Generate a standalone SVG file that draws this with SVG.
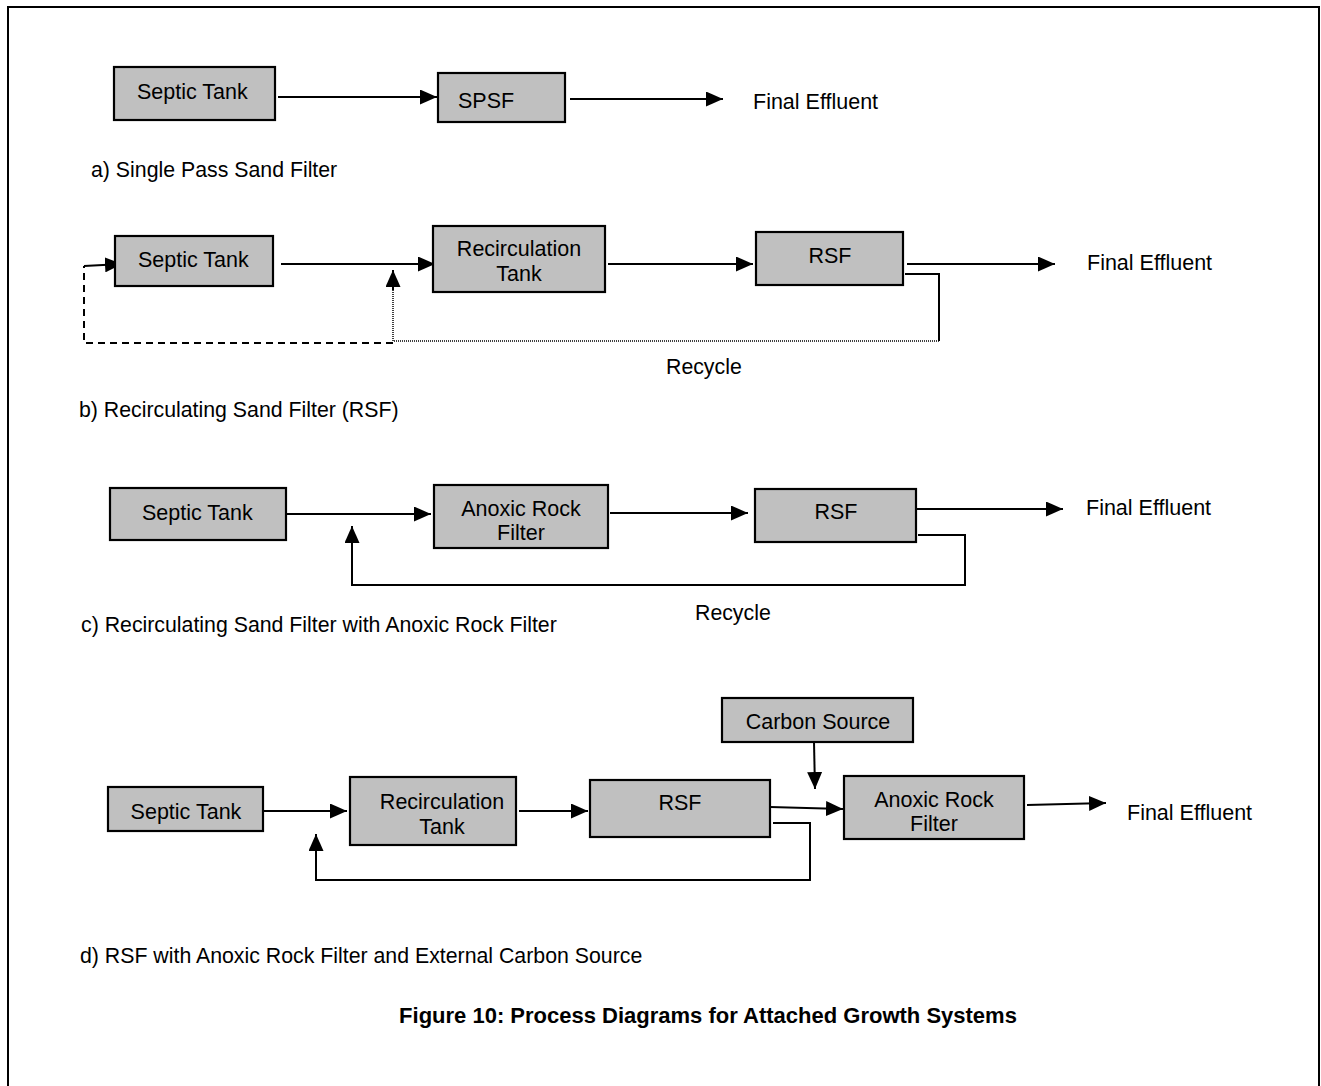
<svg xmlns="http://www.w3.org/2000/svg" width="1321" height="1086" viewBox="0 0 1321 1086">
<style>
.box{fill:#c0c0c0;stroke:#000;stroke-width:2.2}
.t{font-family:"Liberation Sans",Arial,sans-serif;font-size:21.5px;fill:#000}
.lbl{font-family:"Liberation Sans",Arial,sans-serif;font-size:21.3px;fill:#000}
.ln{fill:none;stroke:#000;stroke-width:2}
.dot{fill:none;stroke:#000;stroke-width:1.5;stroke-dasharray:1 1}
.dash{fill:none;stroke:#000;stroke-width:2;stroke-dasharray:7 5}
</style>
<defs>
<marker id="ah" markerUnits="userSpaceOnUse" markerWidth="17" markerHeight="15" refX="17" refY="7.5" orient="auto">
<path d="M0,0 L17,7.5 L0,15 Z" fill="#000"/>
</marker>
</defs>
<rect width="1321" height="1086" fill="#fff"/>
<path d="M8,1086 V7 H1319 V1086" fill="none" stroke="#000" stroke-width="2"/>

<g id="connectors">
<line class="ln" x1="278" y1="97" x2="437" y2="97" marker-end="url(#ah)"/>
<line class="ln" x1="570" y1="99" x2="723" y2="99" marker-end="url(#ah)"/>
<line class="ln" x1="281" y1="264" x2="435" y2="264" marker-end="url(#ah)"/>
<line class="ln" x1="608" y1="264" x2="753" y2="264" marker-end="url(#ah)"/>
<line class="ln" x1="907" y1="264" x2="1055" y2="264" marker-end="url(#ah)"/>
<path class="ln" d="M905,274 H939 V341"/>
<path class="dot" d="M939,341 H393 V290"/>
<line class="ln" x1="393" y1="290" x2="393" y2="270" marker-end="url(#ah)" stroke-width="1"/>
<path class="dash" d="M393,343 H84 V266"/>
<line class="ln" x1="84" y1="266" x2="122" y2="264" marker-end="url(#ah)"/>
<line class="ln" x1="287" y1="514" x2="431" y2="514" marker-end="url(#ah)"/>
<line class="ln" x1="610" y1="513" x2="748" y2="513" marker-end="url(#ah)"/>
<line class="ln" x1="917" y1="509" x2="1063" y2="509" marker-end="url(#ah)"/>
<path class="ln" d="M918,535 H965 V585 H352 V526" marker-end="url(#ah)"/>
<line class="ln" x1="814" y1="742" x2="815" y2="789" marker-end="url(#ah)"/>
<line class="ln" x1="264" y1="811" x2="347" y2="811" marker-end="url(#ah)"/>
<line class="ln" x1="519" y1="811" x2="588" y2="811" marker-end="url(#ah)"/>
<line class="ln" x1="770" y1="807" x2="843" y2="809" marker-end="url(#ah)"/>
<line class="ln" x1="1027" y1="805" x2="1106" y2="803" marker-end="url(#ah)"/>
<path class="ln" d="M773,823 H810 V880 H316 V834" marker-end="url(#ah)"/>
</g>

<g id="a-septic"><rect class="box" x="114" y="67" width="161" height="53"/><text class="t" x="137" y="99">Septic Tank</text></g>
<g id="a-spsf"><rect class="box" x="438" y="73" width="127" height="49"/><text class="t" x="458" y="108">SPSF</text></g>
<text id="a-effluent" class="t" x="753" y="109">Final Effluent</text>
<text id="a-label" class="lbl" x="91" y="177">a) Single Pass Sand Filter</text>

<g id="b-septic"><rect class="box" x="115" y="236" width="158" height="50"/><text class="t" x="138" y="267">Septic Tank</text></g>
<g id="b-recirc"><rect class="box" x="433" y="226" width="172" height="66"/><text class="t" x="519" y="256" text-anchor="middle">Recirculation</text><text class="t" x="519" y="281" text-anchor="middle">Tank</text></g>
<g id="b-rsf"><rect class="box" x="756" y="232" width="147" height="53"/><text class="t" x="830" y="263" text-anchor="middle">RSF</text></g>
<text id="b-effluent" class="t" x="1087" y="270">Final Effluent</text>
<text id="b-recycle" class="lbl" x="666" y="374">Recycle</text>
<text id="b-label" class="lbl" x="79" y="417">b) Recirculating Sand Filter (RSF)</text>

<g id="c-septic"><rect class="box" x="110" y="488" width="176" height="52"/><text class="t" x="142" y="520">Septic Tank</text></g>
<g id="c-arf"><rect class="box" x="434" y="485" width="174" height="63"/><text class="t" x="521" y="516" text-anchor="middle">Anoxic Rock</text><text class="t" x="521" y="540" text-anchor="middle">Filter</text></g>
<g id="c-rsf"><rect class="box" x="755" y="489" width="161" height="53"/><text class="t" x="836" y="519" text-anchor="middle">RSF</text></g>
<text id="c-effluent" class="t" x="1086" y="515">Final Effluent</text>
<text id="c-recycle" class="lbl" x="695" y="620">Recycle</text>
<text id="c-label" class="lbl" x="81" y="632">c) Recirculating Sand Filter with Anoxic Rock Filter</text>

<g id="d-carbon"><rect class="box" x="722" y="698" width="191" height="44"/><text class="t" x="818" y="729" text-anchor="middle">Carbon Source</text></g>
<g id="d-septic"><rect class="box" x="108" y="787" width="155" height="44"/><text class="t" x="186" y="819" text-anchor="middle">Septic Tank</text></g>
<g id="d-recirc"><rect class="box" x="350" y="777" width="166" height="68"/><text class="t" x="442" y="809" text-anchor="middle">Recirculation</text><text class="t" x="442" y="834" text-anchor="middle">Tank</text></g>
<g id="d-rsf"><rect class="box" x="590" y="780" width="180" height="57"/><text class="t" x="680" y="810" text-anchor="middle">RSF</text></g>
<g id="d-arf"><rect class="box" x="844" y="776" width="180" height="63"/><text class="t" x="934" y="807" text-anchor="middle">Anoxic Rock</text><text class="t" x="934" y="831" text-anchor="middle">Filter</text></g>
<text id="d-effluent" class="t" x="1127" y="820">Final Effluent</text>
<text id="d-label" class="lbl" x="80" y="963">d) RSF with Anoxic Rock Filter and External Carbon Source</text>

<text id="caption" x="708" y="1023" text-anchor="middle" font-family="'Liberation Sans',Arial,sans-serif" font-size="22" font-weight="bold">Figure 10: Process Diagrams for Attached Growth Systems</text>
</svg>
